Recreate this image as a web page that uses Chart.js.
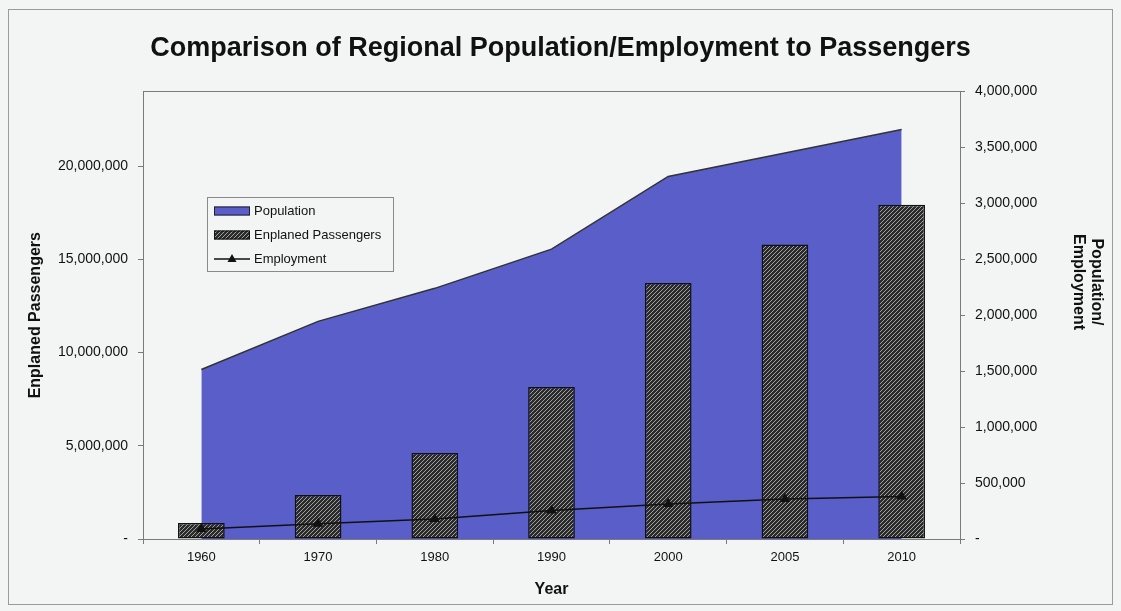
<!DOCTYPE html>
<html>
<head>
<meta charset="utf-8">
<title>Comparison of Regional Population/Employment to Passengers</title>
<script src="https://cdn.jsdelivr.net/npm/chart.js@4.4.1/dist/chart.umd.min.js"></script>
<style>
    html, body { margin: 0; padding: 0; background: #f3f4f4; }
    canvas { display: block; }
</style>
</head>
<body>
<canvas id="chart" width="1121" height="611"></canvas>
<script>
// values
const years = ['1960', '1970', '1980', '1990', '2000', '2005', '2010'];
const populationValues = [1515000, 1945000, 2240000, 2590000, 3240000, 3450000, 3660000];
const passengerValues = [860000, 2360000, 4610000, 8150000, 13730000, 15790000, 17920000];
const employmentValues = [90000, 137000, 178000, 255000, 312000, 357000, 380000];

const leftTicks = [0, 5000000, 10000000, 15000000, 20000000];
const rightTicks = [0, 500000, 1000000, 1500000, 2000000, 2500000, 3000000, 3500000, 4000000];

const FONT = "'Liberation Sans', Arial, Helvetica, sans-serif";
const BLUE = 'rgb(90, 94, 200)';
const AXIS = '#7a7a7a';

window.onload = function () {
    renderChart();
};

function makeHatch(ctx) {
    const c = document.createElement('canvas');
    c.width = 4;
    c.height = 4;
    const g = c.getContext('2d');
    g.fillStyle = '#2b2b2b';
    g.fillRect(0, 0, 4, 4);
    g.strokeStyle = '#a0a0a0';
    g.lineWidth = 1;
    g.beginPath();
    g.moveTo(0, 4); g.lineTo(4, 0);
    g.moveTo(-1, 1); g.lineTo(1, -1);
    g.moveTo(3, 5); g.lineTo(5, 3);
    g.stroke();
    return ctx.createPattern(c, 'repeat');
}

function fmt(v) {
    return v === 0 ? '-' : v.toLocaleString('en-US');
}

function renderChart() {
    const ctx = document.getElementById('chart').getContext('2d');
    const hatch = makeHatch(ctx);

    Chart.defaults.font.family = FONT;
    Chart.defaults.color = '#111';

    // frame, plot box, right axis title and the boxed legend
    const decorations = {
        id: 'decorations',
        beforeDatasetsDraw(chart) {
            const c = chart.ctx;
            const a = chart.chartArea;
            c.save();
            c.strokeStyle = AXIS;
            c.lineWidth = 1;
            c.strokeRect(Math.round(a.left) + 0.5, Math.round(a.top) + 0.5,
                Math.round(a.right - a.left), Math.round(a.bottom - a.top));
            c.restore();
        },
        afterDraw(chart) {
            const c = chart.ctx;
            c.save();
            c.strokeStyle = '#9a9a9a';
            c.lineWidth = 1;
            c.strokeRect(8.5, 9.5, 1104, 595);

            // right axis title
            c.fillStyle = '#111';
            c.font = 'bold 16px ' + FONT;
            c.textAlign = 'center';
            c.textBaseline = 'middle';
            c.translate(1087, 282);
            c.rotate(Math.PI / 2);
            c.fillText('Population/', 0, -9);
            c.fillText('Employment', 0, 9);
            c.restore();

            // legend
            const ds = chart.data.datasets;
            c.save();
            c.fillStyle = '#f3f4f4';
            c.fillRect(207.5, 197.5, 186, 74);
            c.strokeStyle = '#8a8a8a';
            c.strokeRect(207.5, 197.5, 186, 74);
            c.font = '13px ' + FONT;
            c.textBaseline = 'middle';
            c.textAlign = 'left';
            const rows = [211, 235, 259];
            ds.forEach(function (d, i) {
                const y = rows[i];
                if (d.type === 'line' && d.fill) {
                    c.fillStyle = BLUE;
                    c.fillRect(214, y - 4.5, 36, 9);
                    c.strokeStyle = '#222';
                    c.lineWidth = 1;
                    c.strokeRect(214.5, y - 4, 35, 8);
                } else if (d.type === 'bar') {
                    c.fillStyle = hatch;
                    c.fillRect(214, y - 4.5, 36, 9);
                    c.strokeStyle = '#111';
                    c.lineWidth = 1;
                    c.strokeRect(214.5, y - 4, 35, 8);
                } else {
                    c.strokeStyle = '#111';
                    c.lineWidth = 1.5;
                    c.beginPath();
                    c.moveTo(214, y);
                    c.lineTo(250, y);
                    c.stroke();
                    c.fillStyle = '#111';
                    c.beginPath();
                    c.moveTo(232, y - 5);
                    c.lineTo(236.5, y + 3);
                    c.lineTo(227.5, y + 3);
                    c.closePath();
                    c.fill();
                }
                c.fillStyle = '#111';
                c.fillText(d.label, 254, y);
            });
            c.restore();
        }
    };

    new Chart(ctx, {
        type: 'bar',
        data: {
            labels: years,
            datasets: [
                {
                    type: 'line',
                    label: 'Population',
                    data: populationValues,
                    yAxisID: 'y1',
                    fill: 'origin',
                    backgroundColor: BLUE,
                    borderColor: '#333',
                    borderWidth: 1.5,
                    pointRadius: 0,
                    tension: 0,
                    order: 3
                },
                {
                    type: 'bar',
                    label: 'Enplaned Passengers',
                    data: passengerValues,
                    yAxisID: 'y',
                    backgroundColor: hatch,
                    borderColor: '#111',
                    borderWidth: 1.5,
                    borderSkipped: false,
                    barPercentage: 0.4,
                    categoryPercentage: 1.0,
                    order: 2
                },
                {
                    type: 'line',
                    label: 'Employment',
                    data: employmentValues,
                    yAxisID: 'y1',
                    fill: false,
                    borderColor: '#111',
                    borderWidth: 1.5,
                    pointStyle: 'triangle',
                    pointRadius: 4.5,
                    pointBackgroundColor: '#111',
                    pointBorderColor: '#111',
                    tension: 0,
                    order: 1
                }
            ]
        },
        options: {
            responsive: false,
            animation: false,
            layout: { padding: 0 },
            plugins: {
                legend: { display: false },
                tooltip: { enabled: false },
                title: {
                    display: true,
                    text: 'Comparison of Regional Population/Employment to Passengers',
                    color: '#111',
                    font: { size: 27, weight: 'bold', family: FONT },
                    padding: { top: 32, bottom: 27 }
                }
            },
            scales: {
                x: {
                    offset: true,
                    grid: { display: true, drawOnChartArea: false, drawTicks: true, tickLength: 5, color: AXIS, offset: true },
                    border: { display: true, color: AXIS },
                    ticks: { font: { size: 13 }, padding: 6, color: '#111' },
                    title: {
                        display: true,
                        text: 'Year',
                        color: '#111',
                        font: { size: 16, weight: 'bold' },
                        padding: { top: 0, bottom: 12 }
                    },
                    afterFit(scale) { scale.height = 72; }
                },
                y: {
                    position: 'left',
                    min: 0,
                    max: 24000000,
                    grid: { display: true, drawOnChartArea: false, drawTicks: true, tickLength: 5, color: AXIS },
                    border: { display: true, color: AXIS },
                    ticks: {
                        font: { size: 14 },
                        padding: 10,
                        color: '#111',
                        callback: function (v) { return fmt(v); }
                    },
                    afterBuildTicks(scale) {
                        scale.ticks = leftTicks.map(function (v) { return { value: v }; });
                    },
                    title: {
                        display: true,
                        text: 'Enplaned Passengers',
                        color: '#111',
                        font: { size: 16, weight: 'bold' },
                        padding: { top: 26, bottom: 0 }
                    },
                    afterFit(scale) { scale.width = 143; }
                },
                y1: {
                    position: 'right',
                    min: 0,
                    max: 4000000,
                    grid: { display: true, drawOnChartArea: false, drawTicks: true, tickLength: 5, color: AXIS },
                    border: { display: true, color: AXIS },
                    ticks: {
                        font: { size: 14 },
                        padding: 10,
                        color: '#111',
                        callback: function (v) { return fmt(v); }
                    },
                    afterBuildTicks(scale) {
                        scale.ticks = rightTicks.map(function (v) { return { value: v }; });
                    },
                    afterFit(scale) { scale.width = 161; }
                }
            }
        },
        plugins: [decorations]
    });
}
</script>
</body>
</html>
